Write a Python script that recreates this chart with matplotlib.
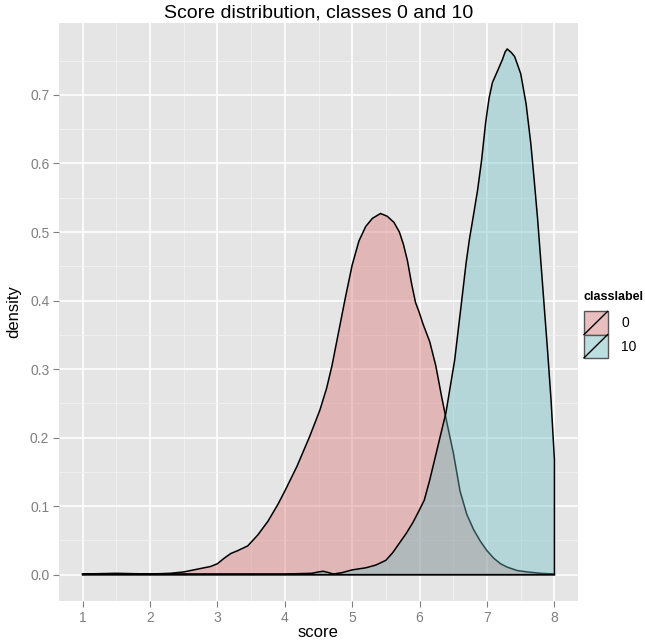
import numpy as np
import matplotlib
matplotlib.use('Agg')
import matplotlib.pyplot as plt
from matplotlib.patches import Rectangle, Patch
from matplotlib.lines import Line2D
from matplotlib.legend_handler import HandlerBase

plt.rcParams['font.family'] = ['Liberation Sans', 'DejaVu Sans']

# density of class 0
score_0 = [1.0, 1.5, 2.0, 2.3, 2.5, 2.7, 2.9, 3.0, 3.1, 3.2, 3.3, 3.45, 3.6, 3.75,
           3.9, 4.0, 4.18, 4.37, 4.52, 4.62, 4.7, 4.8, 4.9, 5.0, 5.1, 5.2, 5.3,
           5.42, 5.52, 5.62, 5.70, 5.76, 5.82, 5.88, 5.94, 5.99, 6.05, 6.15,
           6.24, 6.33, 6.4, 6.5, 6.6, 6.7, 6.8, 6.9, 7.0, 7.1, 7.2, 7.3, 7.45,
           7.6, 7.8, 8.0]
dens_0 = [0.001, 0.002, 0.001, 0.002, 0.004, 0.008, 0.012, 0.016, 0.024, 0.031,
          0.035, 0.042, 0.058, 0.078, 0.103, 0.122, 0.158, 0.202, 0.240, 0.272,
          0.305, 0.355, 0.405, 0.452, 0.487, 0.508, 0.520, 0.527, 0.523, 0.514,
          0.500, 0.482, 0.458, 0.425, 0.397, 0.384, 0.366, 0.340, 0.305, 0.258,
          0.224, 0.178, 0.122, 0.088, 0.066, 0.049, 0.035, 0.024, 0.016, 0.011,
          0.006, 0.004, 0.002, 0.001]

# density of class 10
score_10 = [1.0, 2.0, 3.0, 4.0, 4.4, 4.5, 4.57, 4.65, 4.72, 4.85, 5.0, 5.2, 5.35,
            5.5, 5.6, 5.7, 5.8, 5.9, 6.0, 6.07, 6.15, 6.27, 6.39, 6.52, 6.62,
            6.69, 6.74, 6.80, 6.86, 6.92, 6.98, 7.03, 7.08, 7.16, 7.23, 7.27,
            7.30, 7.36, 7.41, 7.50, 7.58, 7.65, 7.70, 7.75, 7.80, 7.85, 7.90,
            7.95, 8.0]
dens_10 = [0.001, 0.001, 0.001, 0.001, 0.002, 0.004, 0.005, 0.003, 0.001, 0.003,
           0.007, 0.010, 0.014, 0.021, 0.032, 0.046, 0.060, 0.076, 0.095, 0.109,
           0.138, 0.187, 0.236, 0.313, 0.396, 0.455, 0.490, 0.525, 0.561, 0.605,
           0.660, 0.695, 0.718, 0.736, 0.752, 0.763, 0.767, 0.762, 0.756, 0.731,
           0.687, 0.629, 0.576, 0.520, 0.455, 0.390, 0.325, 0.255, 0.168]

labels = ['0', '10']
colors = ['#D97070', '#6BC0C5']
key_colors = ['#E8BEBE', '#BCDEE0']
x_ticks = [1, 2, 3, 4, 5, 6, 7, 8]
y_ticks = [0.0, 0.1, 0.2, 0.3, 0.4, 0.5, 0.6, 0.7]


class KeyHandler(HandlerBase):
    # ggplot style key: filled square with a diagonal line
    def create_artists(self, legend, orig_handle, xdescent, ydescent,
                       width, height, fontsize, trans):
        r = Rectangle((-xdescent, -ydescent), width, height,
                      facecolor=orig_handle.get_facecolor(),
                      edgecolor='#555555', lw=1.0, transform=trans)
        l = Line2D([-xdescent, -xdescent + width], [-ydescent, -ydescent + height],
                   color='black', lw=1.0, transform=trans)
        return [r, l]


fig = plt.figure(figsize=(6.45, 6.42), dpi=100)
ax = fig.add_axes([59 / 645, 1 - 601 / 642, 519 / 645, 578 / 642])
ax.set_facecolor('#E5E5E5')

for xs, ys, c in [(score_0, dens_0, colors[0]), (score_10, dens_10, colors[1])]:
    px = [xs[0]] + list(xs) + [xs[-1]]
    py = [0] + list(ys) + [0]
    ax.fill(px, py, facecolor=matplotlib.colors.to_rgba(c, 0.4),
            edgecolor='black', lw=1.1, zorder=3)

ax.set_xlim(0.65, 8.35)
ax.set_ylim(-0.0384, 0.805)
ax.set_xticks(x_ticks)
ax.set_yticks(y_ticks)
ax.set_xticks(np.array(x_ticks[:-1]) + 0.5, minor=True)
ax.set_yticks(np.array(y_ticks) + 0.05, minor=True)
ax.set_yticklabels(['%.1f' % v for v in y_ticks])
ax.grid(which='major', color='white', lw=1.2, zorder=1)
ax.grid(which='minor', color='#F2F2F2', lw=0.6, zorder=1)
ax.set_axisbelow(True)
for s in ax.spines.values():
    s.set_visible(False)
ax.tick_params(which='major', length=4, color='#7F7F7F', labelcolor='#7F7F7F',
               labelsize=10, pad=3)
ax.tick_params(which='minor', length=0)

ax.set_xlabel('score', fontsize=12, labelpad=0)
ax.set_ylabel('density', fontsize=12, labelpad=6)
ax.set_title('Score distribution, classes 0 and 10', fontsize=14, pad=4)

handles = [Patch(facecolor=c) for c in key_colors]
leg = fig.legend(handles, labels, title='classlabel', loc='upper left',
                 bbox_to_anchor=(584 / 645, 1 - 291 / 642), frameon=False,
                 handler_map={Patch: KeyHandler()}, fontsize=10,
                 handlelength=1.7, handleheight=2.2, labelspacing=0.0,
                 handletextpad=1.0, borderaxespad=0, borderpad=0)
leg.get_title().set_fontweight('bold')
leg.get_title().set_fontsize(9)
leg._legend_box.align = 'left'
leg._legend_box.sep = 6

fig.savefig('out.png', dpi=100)
